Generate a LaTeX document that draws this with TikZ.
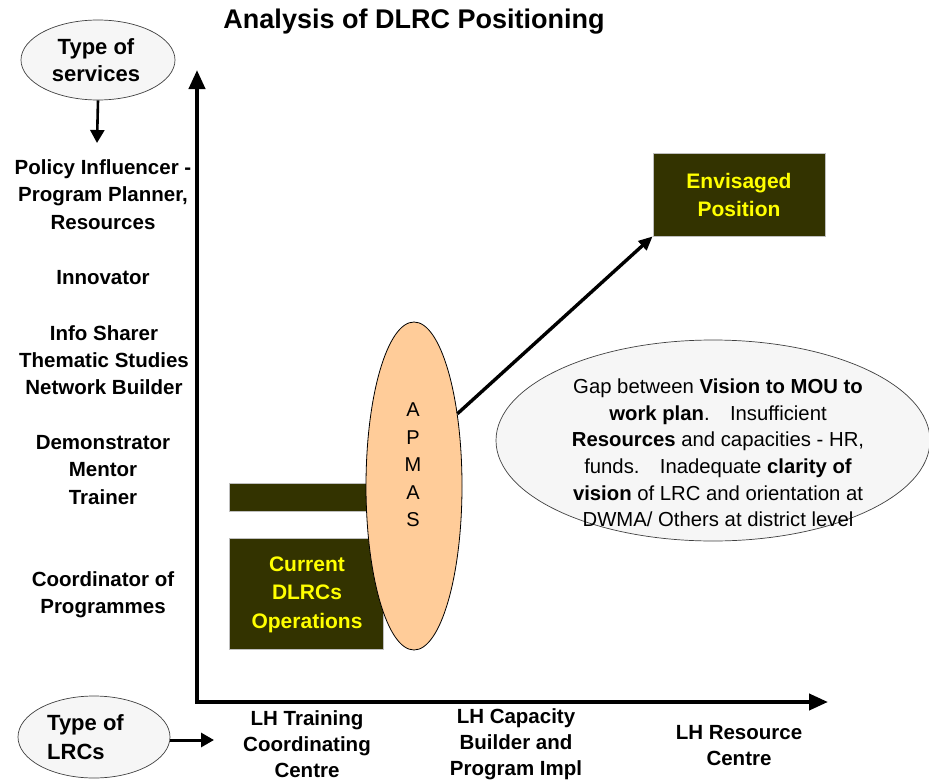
\documentclass[tikz,border=0pt]{standalone}
\usepackage{fontspec}
\setmainfont{Liberation Sans}
\usetikzlibrary{shapes.geometric,arrows.meta}
\definecolor{olivedark}{HTML}{333300}
\definecolor{peach}{HTML}{FFCC99}
\definecolor{yel}{HTML}{FFFF00}
\definecolor{ellfill}{HTML}{F6F6F6}
\begin{document}
\begin{tikzpicture}[x=1pt,y=-1pt,
  lab/.style={font={\fontsize{20.5}{27.3}\selectfont\bfseries},align=center,inner sep=0pt},
  botlab/.style={font={\fontsize{20.5}{26}\selectfont\bfseries},align=center,inner sep=0pt},
  ytext/.style={font={\fontsize{21}{28.5}\selectfont\bfseries},text=yel,align=center,inner sep=0pt},
  darkbox/.style={rectangle,fill=olivedark,draw=black!25,line width=0.8pt,inner sep=0pt},
  oval/.style={ellipse,draw=black!75,line width=0.7pt,fill=ellfill,inner sep=0pt},
  axisline/.style={line width=4pt,line join=miter,{Triangle[length=19pt,width=16pt]}-{Triangle[length=19pt,width=16pt]}},
  smallarrow/.style={line width=2.6pt,-{Triangle[length=13pt,width=14pt]}},
  bigarrow/.style={line width=3.4pt,-{Triangle[length=14pt,width=12pt]}}
]
\useasboundingbox (0,0) rectangle (929,784);

% title
\node[font={\fontsize{27}{30}\selectfont\bfseries},inner sep=0pt] (title) at (414,22) {Analysis of DLRC Positioning};

% type of services
\node[oval,minimum width=154pt,minimum height=80pt] (tos) at (98,60) {};
\node[font={\fontsize{22}{27}\selectfont\bfseries},align=center,inner sep=0pt] (tostext) at (96,60) {Type of\\services};
\coordinate (tosend) at (97,143);
\draw[smallarrow] (tos.south) -- (tosend);

% left labels
\node[lab] (l1) at (103,194.5) {Policy Influencer -\\Program Planner,\\Resources};
\node[lab] (l2) at (103,278) {Innovator};
\node[lab] (l3) at (104,360) {Info Sharer\\Thematic Studies\\Network Builder};
\node[lab] (l4) at (103,470) {Demonstrator\\Mentor\\Trainer};
\node[lab] (l5) at (103,594.5) {Coordinator of\\Programmes};

% axes
\coordinate (origin) at (197,702);
\coordinate (ytip) at (197,70);
\coordinate (xtip) at (828,702);
\draw[axisline] (ytip) -- (origin) -- (xtip);

% boxes
\node[darkbox,minimum width=141pt,minimum height=28pt] (bar) at (299.5,497) {};
\node[darkbox,minimum width=154pt,minimum height=111pt] (cur) at (306,593.5) {};
\node[ytext] (curtext) at (307,594.5) {Current\\DLRCs\\Operations};

% APMAS
\node[ellipse,draw=black,line width=0.8pt,fill=peach,inner sep=0pt,minimum width=96pt,minimum height=328pt] (apmas) at (414,486) {};
\node[font={\fontsize{20}{27.5}\selectfont},align=center,inner sep=0pt] (apmastext) at (413,465) {A\\P\\M\\A\\S};

% envisaged
\node[darkbox,minimum width=172pt,minimum height=83pt] (env) at (739,194.5) {};
\node[ytext] (envtext) at (739,195) {Envisaged\\Position};
\draw[bigarrow] (apmas.59) -- (env.south west);

% gap ellipse
\node[oval,minimum width=434pt,minimum height=201pt] (gap) at (713,440.5) {};
\node[font={\fontsize{20.3}{26.6}\selectfont},align=center,inner sep=0pt] (gaptext) at (718,453) {Gap between \textbf{Vision to MOU to}\\
\textbf{work plan}.\quad Insufficient\\
\textbf{Resources} and capacities - HR,\\
funds.\quad Inadequate \textbf{clarity of}\\
\textbf{vision} of LRC and orientation at\\
DWMA/ Others at district level};

% type of LRCs
\node[oval,minimum width=152pt,minimum height=82pt] (lrc) at (94,737) {};
\node[font={\fontsize{22}{29}\selectfont\bfseries},align=left,anchor=west,inner sep=0pt] (lrctext) at (47,737.5) {Type of\\LRCs};
\coordinate (lrcend) at (214,740);
\draw[smallarrow,line width=3pt] (lrc.east |- lrcend) -- (lrcend);

% bottom labels
\node[botlab] (b1) at (307,744) {LH Training\\Coordinating\\Centre};
\node[botlab] (b2) at (516,744) {LH Capacity\\Builder and\\Program Impl};
\node[botlab] (b3) at (739,746) {LH Resource\\Centre};
\end{tikzpicture}
\end{document}
